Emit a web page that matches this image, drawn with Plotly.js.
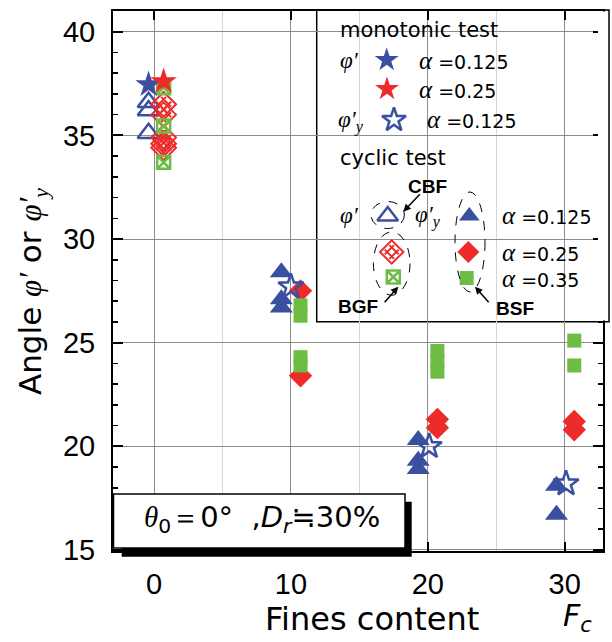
<!DOCTYPE html>
<html><head><meta charset="utf-8">
<script src="https://cdn.plot.ly/plotly-3.0.1.min.js"></script>
<style>body{margin:0;background:#fff}#chart{width:612px;height:642px}</style>
</head><body><div id="chart"></div>
<script>
// ---- data (Fines content Fc, angle in degrees) ----
const monoPhiA0125_x = [-0.4];
const monoPhiA0125_y = [37.45];
const monoPhiA025_x = [0.7];
const monoPhiA025_y = [37.6];
const monoPhiyA0125_x = [10.0, 20.1, 30.1];
const monoPhiyA0125_y = [27.7, 20.0, 18.2];

const cbfPhi_x = [-0.4, -0.4, -0.4];
const cbfPhi_y = [36.6, 36.2, 35.1];
const bgfRed_x = [0.7, 0.7, 0.7, 0.7, 0.7];
const bgfRed_y = [36.5, 36.0, 34.9, 34.6, 34.4];
const bgfGreen_x = [0.7, 0.7, 0.7];
const bgfGreen_y = [37.3, 35.45, 33.7];

const bsfBlue_x = [9.3, 9.3, 9.3, 19.3, 19.3, 19.3, 29.4, 29.4];
const bsfBlue_y = [28.4, 27.1, 26.7, 20.3, 19.3, 18.9, 18.1, 16.7];
const bsfRed_x = [10.7, 10.7, 20.7, 20.7, 30.7, 30.7];
const bsfRed_y = [27.5, 23.4, 21.3, 20.9, 21.2, 20.8];
const bsfGreen_x = [10.7, 10.7, 10.7, 10.7, 20.7, 20.7, 20.7, 30.7, 30.7];
const bsfGreen_y = [26.8, 26.3, 24.3, 23.9, 24.6, 24.1, 23.6, 25.1, 23.9];

const xTicks = [0, 10, 20, 30];
const yTicks = [15, 20, 25, 30, 35, 40];

const BLUE = '#3a4f9f', RED = '#ee2b2b', GREEN = '#6dbd45';

// pixel -> paper helpers (plot area: x 113..603, y 11..551)
const L = 113, R = 603, T = 11, B = 551;
const px = v => (v - L) / (R - L);
const py = v => (B - v) / (B - T);

function mk(x, y, symbol, color, size, lw, extra) {
  const t = Object.assign({type: 'scatter', mode: 'markers', x, y, cliponaxis: false, hoverinfo: 'skip',
    marker: {symbol, size, color, line: {color, width: lw}}}, extra || {});
  if (symbol === 'hash-open') t.marker.angle = 45;
  return t;
}

const traces = [
  mk(cbfPhi_x, cbfPhi_y, 'triangle-up-open', BLUE, 19, 2.5),
  mk(bgfRed_x, bgfRed_y, 'diamond-open', RED, 19, 2),
  mk(bgfRed_x, bgfRed_y, 'hash-open', RED, 14, 2),
  mk(bgfGreen_x, bgfGreen_y, 'square-x-open', GREEN, 13, 2.5),
  mk(bsfBlue_x, bsfBlue_y, 'triangle-up', BLUE, 20, 0),
  mk(bsfRed_x, bsfRed_y, 'diamond', RED, 18, 0),
  mk(bsfGreen_x, bsfGreen_y, 'square', GREEN, 14, 0),
  mk(monoPhiA0125_x, monoPhiA0125_y, 'star', BLUE, 20, 0),
  mk(monoPhiA025_x, monoPhiA025_y, 'star', RED, 20, 0),
  mk(monoPhiyA0125_x, monoPhiyA0125_y, 'star-open', BLUE, 19, 2.5),
];

// legend key symbols (overlay axis spanning the plot area, range 0..1)
const key = [
  ['star', BLUE, 18, 0, 386.7, 60],
  ['star', RED, 18, 0, 387, 89],
  ['star-open', BLUE, 18, 2.5, 394, 120],
  ['triangle-up-open', BLUE, 18, 2.5, 387.7, 216],
  ['triangle-up', BLUE, 18, 0, 469.3, 216],
  ['diamond-open', RED, 18, 2, 391.7, 252],
  ['hash-open', RED, 13, 2, 391.7, 252],
  ['diamond', RED, 17, 0, 468.3, 252],
  ['square-x-open', GREEN, 13, 2.5, 393.3, 277],
  ['square', GREEN, 14, 0, 466.7, 278],
];
key.forEach(k => {
  traces.push(mk([px(k[4])], [py(k[5])], k[0], k[1], k[2], k[3], {xaxis: 'x2', yaxis: 'y2'}));
});

const F = 'Liberation Sans, Arial, sans-serif';
const FD = 'DejaVu Sans, sans-serif';
function txt(text, x, y, size, extra) {
  return Object.assign({text, x: px(x), y: py(y), xref: 'paper', yref: 'paper', xanchor: 'left', yanchor: 'middle',
    showarrow: false, font: {family: FD, size: size || 19, color: '#000'}}, extra || {});
}
const BF = {font: {family: F, size: 19, color: '#000'}};
const SER = "font-family:'Liberation Serif',serif";
const PHI = `<span style="${SER}"><i>φ′</i></span>`;
const PHIY = `<span style="${SER}"><i>φ′</i><sub><i>y</i></sub></span>`;
const AL = `<span style="${SER};font-size:25px"><i>α</i></span>`;
const annotations = [
  txt('monotonic test', 338, 30, 21),
  txt(PHI, 338, 60, 23),
  txt(AL + ' =0.125', 417, 60, 19),
  txt(AL + ' =0.25', 417, 89, 19),
  txt(PHIY, 336, 121, 23),
  txt(AL + ' =0.125', 425, 120, 19),
  txt('cyclic test', 338, 158, 21),
  txt('<b>CBF</b>', 406, 186, 19, BF),
  txt(PHI, 338, 215, 23),
  txt(PHIY, 413, 216, 23),
  txt(AL + ' =0.125', 500, 215, 19),
  txt(AL + ' =0.25', 500, 252, 19),
  txt(AL + ' =0.35', 500, 278, 19),
  txt('<b>BGF</b>', 336, 306, 19, BF),
  txt('<b>BSF</b>', 494, 308, 19, BF),
  // arrows
  {text: '', x: px(403.3), y: py(211.7), xref: 'paper', yref: 'paper', showarrow: true, ax: 18, ay: -19,
   arrowhead: 2, arrowsize: 1, arrowwidth: 1.5, arrowcolor: '#000'},
  {text: '', x: px(398.3), y: py(286.7), xref: 'paper', yref: 'paper', showarrow: true, ax: -15, ay: 17,
   arrowhead: 2, arrowsize: 1, arrowwidth: 1.5, arrowcolor: '#000'},
  {text: '', x: px(475), y: py(286.7), xref: 'paper', yref: 'paper', showarrow: true, ax: 15, ay: 17,
   arrowhead: 2, arrowsize: 1, arrowwidth: 1.5, arrowcolor: '#000'},
  // condition box text
  {text: `<span style="${SER}"><i>θ</i></span><sub>0</sub>＝0°  ,<i>D</i><sub><i>r</i></sub>≒30%`, x: px(262), y: py(519), xref: 'paper', yref: 'paper',
   xanchor: 'center', yanchor: 'middle', showarrow: false, font: {family: FD, size: 29, color: '#000'}},
  // axis titles
  {text: 'Fines content', x: px(263), y: py(619), xref: 'paper', yref: 'paper',
   xanchor: 'left', yanchor: 'middle', showarrow: false, font: {family: FD, size: 32, color: '#000'}},
  {text: '<i>F</i><sub><i>c</i></sub>', x: px(561), y: py(617), xref: 'paper', yref: 'paper',
   xanchor: 'left', yanchor: 'middle', showarrow: false, font: {family: FD, size: 30, color: '#000'}},
  {text: 'Angle ' + PHI + ' or ' + PHIY, x: px(32), y: py(292), xref: 'paper', yref: 'paper', textangle: -90,
   xanchor: 'center', yanchor: 'middle', showarrow: false, font: {family: FD, size: 31, color: '#000'}},
];

function ell(cx, cy, rx, ry) {
  return {type: 'circle', xref: 'paper', yref: 'paper', x0: px(cx - rx), x1: px(cx + rx), y0: py(cy + ry), y1: py(cy - ry),
    line: {color: '#000', width: 1, dash: 'dash'}, layer: 'above'};
}
const shapes = [
  {type: 'rect', xref: 'paper', yref: 'paper', x0: px(316.7), x1: px(609), y0: py(321.7), y1: py(10),
   fillcolor: '#fff', line: {color: '#000', width: 1.5}, layer: 'between'},
  // hide right frame/ticks behind legend
  {type: 'rect', xref: 'paper', yref: 'paper', x0: px(598), x1: px(607.5), y0: py(320.5), y1: py(11.5),
   fillcolor: '#fff', line: {width: 0}, layer: 'above'},
  ell(387.7, 215, 16.7, 13.5),
  ell(470, 242, 15, 50),
  ell(391.7, 263.5, 18.3, 31.7),
  {type: 'rect', xref: 'paper', yref: 'paper', x0: px(121.7), x1: px(411.7), y0: py(556.7), y1: py(501.7),
   fillcolor: '#000', line: {width: 0}, layer: 'above'},
  {type: 'rect', xref: 'paper', yref: 'paper', x0: px(113.5), x1: px(405), y0: py(548), y1: py(494),
   fillcolor: '#fff', line: {color: '#000', width: 1.5}, layer: 'above'},
];

const layout = {
  width: 612, height: 642,
  margin: {l: L, r: 612 - R, t: T, b: 642 - B},
  paper_bgcolor: '#fff', plot_bgcolor: '#fff',
  showlegend: false,
  xaxis: {range: [-3, 32.8], tickvals: xTicks, ticks: 'inside', ticklen: 9, tickwidth: 2, tickcolor: '#000',
    showline: true, linewidth: 2, linecolor: '#000', mirror: 'ticks', zeroline: false,
    showgrid: true, gridcolor: '#8c8c8c', gridwidth: 1,
    minor: {dtick: 5, tick0: 0, showgrid: true, gridcolor: '#d6d6d6', gridwidth: 1, ticks: ''},
    tickfont: {family: F, size: 29, color: '#000'}, ticklabelstandoff: 6},
  yaxis: {range: [14.95, 41.0], tickvals: yTicks, ticks: 'inside', ticklen: 10, tickwidth: 2, tickcolor: '#000',
    showline: true, linewidth: 2, linecolor: '#000', mirror: 'ticks', zeroline: false,
    showgrid: true, gridcolor: '#8c8c8c', gridwidth: 1,
    minor: {dtick: 1, tick0: 0, ticks: 'inside', ticklen: 5, tickwidth: 1.5, tickcolor: '#000', showgrid: false},
    tickfont: {family: F, size: 29, color: '#000'}, ticklabelstandoff: 10},
  xaxis2: {overlaying: 'x', range: [0, 1], visible: false, fixedrange: true},
  yaxis2: {overlaying: 'y', range: [0, 1], visible: false, fixedrange: true},
  annotations, shapes,
};
Plotly.newPlot('chart', traces, layout, {displayModeBar: false, staticPlot: true});
</script></body></html>
